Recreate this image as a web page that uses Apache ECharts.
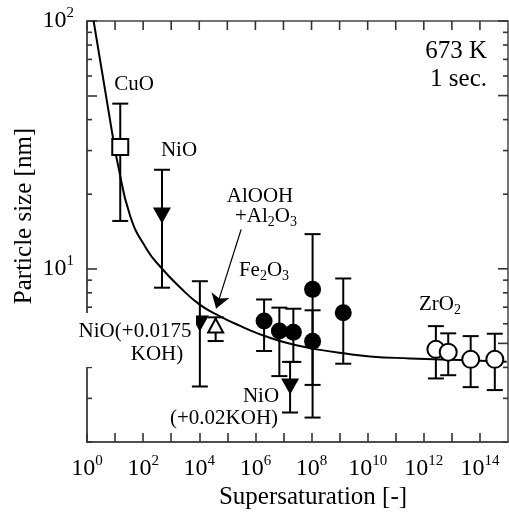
<!DOCTYPE html>
<html><head><meta charset="utf-8">
<script src="https://cdn.jsdelivr.net/npm/echarts@6/dist/echarts.min.js"></script>
<style>html,body{margin:0;padding:0;background:#fff}#c{width:509px;height:516px}</style>
</head><body><div id="c"></div>
<script>
// ---- tick / label values ----
const xTickValues = [1,1e1,1e2,1e3,1e4,1e5,1e6,1e7,1e8,1e9,1e10,1e11,1e12,1e13,1e14];
const xLabelValues = [1,1e2,1e4,1e6,1e8,1e10,1e12,1e14];
const yMajorTicks = [5,10,50,100];
const yMinorTicks = [2,3,4,6,7,8,9,20,30,40,60,70,80,90];
const yLabelValues = [10,100];

// ---- fitted curve ----
const curveS = [1.72, 8.85, 11.7, 34.8, 136, 440, 2090, 1.07e4, 5.5e4, 2.86e5, 1.47e6, 7.57e6, 3.89e7, 1.53e8, 1.35e9, 1.2e10, 3.16e11, 1.95e13, 8.9e14];
const curveD = [100, 32.7, 27.5, 16.3, 11.97, 10.1, 8.4, 7.15, 6.43, 5.88, 5.44, 5.11, 4.88, 4.73, 4.56, 4.43, 4.35, 4.28, 4.22];

// ---- data points ----
const cuoX = [15.3],  cuoY = [31],   cuoLo = [15.6], cuoHi = [46.4];
const nioX = [470],   nioY = [16.4], nioLo = [8.39], nioHi = [25.1];
const nioKohAX = [1.05e4], nioKohAY = [6.02], nioKohALo = [3.35], nioKohAHi = [8.91];
const alX = [3.84e4], alY = [5.9], alLo = [5.11], alHi = [6.37];
const feX  = [2.04e6, 7.14e6, 2.25e7, 1.09e8, 1.09e8, 1.35e9];
const feY  = [6.15, 5.61, 5.55, 8.26, 5.1, 6.65];
const feLo = [4.66, 3.69, 4.21, 2.51, 3.4, 4.14];
const feHi = [7.52, 6.97, 6.9, 13.8, 6.8, 9.14];
const nioKohBX = [1.72e7], nioKohBY = [3.35], nioKohBLo = [2.63], nioKohBHi = [4.21];
const zrX  = [2.69e12, 7.41e12, 4.68e13, 3.39e14];
const zrY  = [4.73, 4.61, 4.31, 4.31];
const zrLo = [3.61, 3.72, 3.33, 3.24];
const zrHi = [5.87, 5.49, 5.35, 5.47];
// arrow (AlOOH label -> point), data coords
const arrowFrom = [3.1e5, 14.4];
const arrowTo = [4.0e4, 6.92];

const FONT = 'Liberation Serif';
const AXC = '#444444';
const X_MIN = 1, X_MAX = 1e15, Y_MIN = 2, Y_MAX = 100;

function zip(xs, ys){ return xs.map((x,i)=>[x, ys[i]]); }
function zip3(xs, lo, hi){ return xs.map((x,i)=>[x, lo[i], hi[i]]); }

const allErr = [].concat(
  zip3(cuoX,cuoLo,cuoHi), zip3(nioX,nioLo,nioHi), zip3(nioKohAX,nioKohALo,nioKohAHi),
  zip3(alX,alLo,alHi), zip3(feX,feLo,feHi), zip3(nioKohBX,nioKohBLo,nioKohBHi), zip3(zrX,zrLo,zrHi));

function errRender(params, api){
  const x = api.value(0), lo = api.value(1), hi = api.value(2);
  const p1 = api.coord([x, hi]), p2 = api.coord([x, lo]);
  const w = 8, st = {stroke:'#000', lineWidth:2};
  return {type:'group', children:[
    {type:'line', shape:{x1:p1[0],y1:p1[1],x2:p2[0],y2:p2[1]}, style:st},
    {type:'line', shape:{x1:p1[0]-w,y1:p1[1],x2:p1[0]+w,y2:p1[1]}, style:st},
    {type:'line', shape:{x1:p2[0]-w,y1:p2[1],x2:p2[0]+w,y2:p2[1]}, style:st}
  ]};
}

// frame ticks on top / right / left-minor, positioned through the axes' scales
function frameTickRender(params, api){
  const kind = api.value(2);   // 0: top, 1: right major, 2: right minor, 3: left minor
  const p = api.coord([api.value(0), api.value(1)]);
  let shape;
  if (kind === 0) shape = {x1:p[0], y1:p[1], x2:p[0], y2:p[1]+9};
  else if (kind === 1) shape = {x1:p[0], y1:p[1], x2:p[0]-10, y2:p[1]};
  else if (kind === 2) shape = {x1:p[0], y1:p[1], x2:p[0]-5, y2:p[1]};
  else shape = {x1:p[0], y1:p[1], x2:p[0]+5, y2:p[1]};
  return {type:'group', children:[{type:'line', shape:shape, style:{stroke:'#333333', lineWidth:1.6}}]};
}
const frameTicks = [].concat(
  xTickValues.map(v => [v, Y_MAX, 0]),
  yMajorTicks.map(v => [X_MAX, v, 1]),
  yMinorTicks.map(v => [X_MAX, v, 2]),
  yMinorTicks.map(v => [X_MIN, v, 3]));

const powFmt = v => '{b|10}{s|' + Math.round(Math.log10(v)) + '}';
const powRich = {
  b:{fontSize:24, fontFamily:FONT, color:'#000', lineHeight:30},
  s:{fontSize:15, fontFamily:FONT, color:'#000', lineHeight:20, verticalAlign:'top'}
};

const sub = {fontSize:14, fontFamily:FONT, color:'#000', lineHeight:12, verticalAlign:'bottom'};
function txt(x, y, text, opt){
  opt = opt || {};
  const size = opt.size || 21;
  return {type:'text', x:x, y:y, z:100, rotation:opt.rot||0,
    style:{text:text, align:opt.align||'center', verticalAlign:'middle',
      fontSize:size, fontFamily:FONT, fill:'#000',
      rich:{n:{fontSize:size, fontFamily:FONT, color:'#000', lineHeight:size+5}, d:sub}}};
}

const chart = echarts.init(document.getElementById('c'), null, {renderer:'canvas'});
chart.setOption({
  animation:false,
  backgroundColor:'#fff',
  grid:{left:87, top:21, right:1, bottom:74, outerBoundsMode:'none', containLabel:false,
        show:true, borderColor:AXC, borderWidth:1.5, backgroundColor:'transparent'},
  xAxis:{type:'log', logBase:10, min:X_MIN, max:X_MAX, position:'bottom',
    axisLine:{show:true, onZero:false, lineStyle:{color:AXC, width:1.5}},
    axisTick:{show:true, inside:true, length:9, customValues:xTickValues, lineStyle:{color:'#333333', width:1.6}},
    axisLabel:{show:true, customValues:xLabelValues, formatter:powFmt, rich:powRich, margin:12},
    splitLine:{show:false}, minorTick:{show:false}, minorSplitLine:{show:false}},
  yAxis:{type:'log', logBase:10, min:Y_MIN, max:Y_MAX, position:'left',
    axisLine:{show:true, onZero:false, lineStyle:{color:AXC, width:1.5}},
    axisTick:{show:true, inside:true, length:10, customValues:yMajorTicks, lineStyle:{color:'#333333', width:1.6}},
    axisLabel:{show:true, customValues:yLabelValues, formatter:powFmt, rich:powRich, margin:13},
    splitLine:{show:false}, minorTick:{show:false}, minorSplitLine:{show:false}},
  series:[
    {type:'custom', data:frameTicks, renderItem:frameTickRender, encode:{x:0, y:1}, clip:false, z:6},
    {type:'line', data:zip(curveS, curveD), smooth:true, symbol:'none', clip:true,
     lineStyle:{color:'#000', width:2}, z:2},
    {type:'custom', data:allErr, renderItem:errRender, encode:{x:0, y:[1,2]}, z:3, clip:false},
    {type:'lines', coordinateSystem:'cartesian2d', z:4,
     data:[{coords:[arrowFrom, arrowTo]}], symbol:['none','arrow'], symbolSize:[7,14],
     lineStyle:{color:'#000', width:1.2, opacity:1}},
    {type:'scatter', data:zip(cuoX,cuoY), symbol:'rect', symbolSize:16, z:5,
     itemStyle:{color:'#fff', borderColor:'#000', borderWidth:2, opacity:1}},
    {type:'scatter', data:zip(nioX.concat(nioKohAX, nioKohBX), nioY.concat(nioKohAY, nioKohBY)),
     symbol:'triangle', symbolRotate:180, symbolSize:[18,16], z:5,
     itemStyle:{color:'#000', opacity:1}},
    {type:'scatter', data:zip(alX,alY), symbol:'triangle', symbolSize:[15,14], z:5,
     itemStyle:{color:'#fff', borderColor:'#000', borderWidth:2, opacity:1}},
    {type:'scatter', data:zip(feX,feY), symbol:'circle', symbolSize:17, z:5,
     itemStyle:{color:'#000', opacity:1}},
    {type:'scatter', data:zip(zrX,zrY), symbol:'circle', symbolSize:17, z:5,
     itemStyle:{color:'#fff', borderColor:'#000', borderWidth:2, opacity:1}}
  ],
  graphic:[
    {type:'rect', z:90, shape:{x:76, y:313, width:120, height:54}, style:{fill:'#fff'}},
    txt(24, 216, 'Particle size [nm]', {size:25, rot:Math.PI/2}),
    txt(313, 497, 'Supersaturation [-]', {size:25}),
    txt(487, 51, '673 K', {size:25, align:'right'}),
    txt(487, 79, '1 sec.', {size:25, align:'right'}),
    txt(134, 84, 'CuO'),
    txt(179, 150, 'NiO'),
    txt(260, 196, 'AlOOH'),
    txt(266, 216, '{n|+Al}{d|2}{n|O}{d|3}'),
    txt(264, 270, '{n|Fe}{d|2}{n|O}{d|3}'),
    txt(135, 331, 'NiO(+0.0175'),
    txt(157, 354, 'KOH)'),
    txt(261, 396, 'NiO'),
    txt(224, 418, '(+0.02KOH)'),
    txt(440, 304, '{n|ZrO}{d|2}')
  ]
});
</script></body></html>
